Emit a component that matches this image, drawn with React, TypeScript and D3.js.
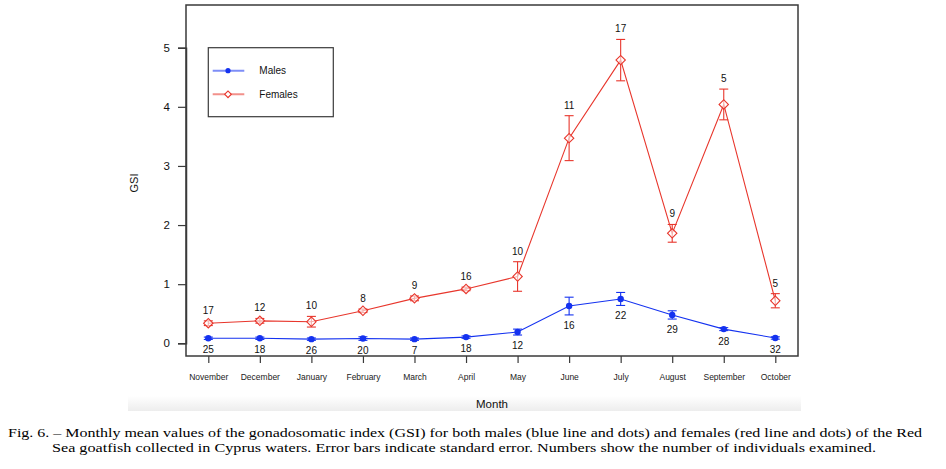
import * as d3 from 'd3';
import { useEffect, useRef } from 'react';

const months = ['November', 'December', 'January', 'February', 'March', 'April', 'May', 'June', 'July', 'August', 'September', 'October'];
const maleMean = [0.085, 0.085, 0.07, 0.08, 0.07, 0.105, 0.19, 0.63, 0.75, 0.48, 0.24, 0.09];
const maleSE = [0.02, 0.02, 0.02, 0.03, 0.02, 0.02, 0.05, 0.15, 0.11, 0.07, 0.025, 0.02];
const maleN = [25, 18, 26, 20, 7, 18, 12, 16, 22, 29, 28, 32];
const femaleMean = [0.34, 0.38, 0.365, 0.55, 0.76, 0.92, 1.13, 3.47, 4.79, 1.86, 4.04, 0.72];
const femaleSE = [0.04, 0.04, 0.09, 0.03, 0.04, 0.03, 0.25, 0.38, 0.35, 0.15, 0.26, 0.12];
const femaleN = [17, 12, 10, 8, 9, 16, 10, 11, 17, 9, 5, 5];
const yTicks = [0, 1, 2, 3, 4, 5];

const caption1 = 'Fig. 6. – Monthly mean values of the gonadosomatic index (GSI) for both males (blue line and dots) and females (red line and dots) of the Red';
const caption2 = 'Sea goatfish collected in Cyprus waters. Error bars indicate standard error. Numbers show the number of individuals examined.';

const BLUE = '#1432f0';
const RED = '#e8362c';
const FONT = "'Liberation Sans', Arial, sans-serif";
const SERIF = "'Times New Roman', 'Liberation Serif', serif";

export default function App() {
    const ref = useRef<any>();

    useEffect(() => {
        const svg = d3.select<any, any>(ref.current);
        svg.selectAll('*').remove();

        const box = { left: 186, right: 798, top: 5, bottom: 356 };
        const xScale = d3.scaleLinear().domain([0, months.length - 1]).range([208.3, 775.3]);
        const yScale = d3.scaleLinear().domain([0, 5]).range([343.3, 47.7]);

        // faint grey band under the figure
        const grad = svg.append('defs').append('linearGradient')
            .attr('id', 'band').attr('x1', 0).attr('x2', 0).attr('y1', 0).attr('y2', 1);
        grad.append('stop').attr('offset', '0%').attr('stop-color', '#ffffff');
        grad.append('stop').attr('offset', '100%').attr('stop-color', '#ededed');
        svg.append('rect').attr('x', 128).attr('y', 396).attr('width', 673).attr('height', 15).attr('fill', 'url(#band)');

        // frame
        svg.append('rect')
            .attr('x', box.left).attr('y', box.top)
            .attr('width', box.right - box.left).attr('height', box.bottom - box.top)
            .attr('fill', 'none').attr('stroke', '#3a3a3a').attr('stroke-width', 1.5);

        // y axis
        const yAxis = svg.append('g').attr('transform', `translate(${box.left},0)`)
            .call(d3.axisLeft(yScale).tickValues(yTicks).tickSize(8).tickPadding(8).tickFormat(d3.format('d')));
        yAxis.select('.domain').attr('stroke', '#3a3a3a').attr('stroke-width', 1.5);
        yAxis.selectAll('.tick line').attr('stroke', '#3a3a3a').attr('stroke-width', 1.2);
        yAxis.selectAll('.tick text').attr('font-family', FONT).attr('font-size', 11.5).attr('fill', '#111');

        // x axis
        const xAxis = svg.append('g').attr('transform', `translate(0,${box.bottom})`)
            .call(d3.axisBottom(xScale).tickValues(d3.range(months.length)).tickSize(7).tickPadding(11)
                .tickFormat((d: any) => months[d]));
        xAxis.select('.domain').remove();
        xAxis.selectAll('.tick line').attr('stroke', '#3a3a3a').attr('stroke-width', 1.2);
        xAxis.selectAll('.tick text').attr('font-family', FONT).attr('font-size', 8.5).attr('fill', '#222');

        svg.append('text').text('Month')
            .attr('x', 492).attr('y', 408).attr('text-anchor', 'middle')
            .attr('font-family', FONT).attr('font-size', 11.5).attr('fill', '#111');
        svg.append('text').text('GSI')
            .attr('transform', 'translate(138,183) rotate(-90)').attr('text-anchor', 'middle')
            .attr('font-family', FONT).attr('font-size', 11).attr('fill', '#111');

        const plot = svg.append('g');

        const drawSeries = (mean: number[], se: number[], color: string) => {
            const line = d3.line<number>()
                .x((d, i) => xScale(i))
                .y((d) => yScale(d));
            plot.append('path').datum(mean)
                .attr('d', line).attr('fill', 'none')
                .attr('stroke', color).attr('stroke-width', 1.1);
            const bars = plot.append('g').attr('stroke', color).attr('stroke-width', 1.1);
            mean.forEach((m, i) => {
                const cx = xScale(i);
                const y0 = yScale(m - se[i]);
                const y1 = yScale(m + se[i]);
                bars.append('line').attr('x1', cx).attr('x2', cx).attr('y1', y0).attr('y2', y1);
                bars.append('line').attr('x1', cx - 4.5).attr('x2', cx + 4.5).attr('y1', y0).attr('y2', y0);
                bars.append('line').attr('x1', cx - 4.5).attr('x2', cx + 4.5).attr('y1', y1).attr('y2', y1);
            });
        };

        drawSeries(femaleMean, femaleSE, RED);
        drawSeries(maleMean, maleSE, BLUE);

        const diamond = d3.symbol().type(d3.symbolSquare).size(44);
        plot.selectAll('.fpt').data(femaleMean).join('path')
            .attr('class', 'fpt')
            .attr('d', diamond)
            .attr('transform', (d, i) => `translate(${xScale(i)},${yScale(d)}) rotate(45)`)
            .attr('fill', 'white').attr('fill-opacity', 0.6)
            .attr('stroke', RED).attr('stroke-width', 1.1);

        plot.selectAll('.mpt').data(maleMean).join('circle')
            .attr('class', 'mpt')
            .attr('cx', (d, i) => xScale(i)).attr('cy', (d) => yScale(d))
            .attr('r', 3.2).attr('fill', BLUE);

        // sample sizes
        plot.selectAll('.fn').data(femaleN).join('text')
            .attr('class', 'fn').text((d) => d)
            .attr('x', (d, i) => xScale(i))
            .attr('y', (d, i) => yScale(femaleMean[i] + femaleSE[i]) - 7)
            .attr('text-anchor', 'middle')
            .attr('font-family', FONT).attr('font-size', 10).attr('fill', '#111');
        plot.selectAll('.mn').data(maleN).join('text')
            .attr('class', 'mn').text((d) => d)
            .attr('x', (d, i) => xScale(i))
            .attr('y', (d, i) => yScale(maleMean[i] - maleSE[i]) + 14)
            .attr('text-anchor', 'middle')
            .attr('font-family', FONT).attr('font-size', 10).attr('fill', '#111');

        // legend
        const legend = svg.append('g');
        legend.append('rect').attr('x', 208.3).attr('y', 47.7).attr('width', 125).attr('height', 69)
            .attr('fill', 'white').attr('stroke', '#3a3a3a').attr('stroke-width', 1.2);
        const items = [
            { label: 'Males', color: BLUE, y: 70.7 },
            { label: 'Females', color: RED, y: 94.3 },
        ];
        items.forEach((it, k) => {
            legend.append('line').attr('x1', 212.7).attr('x2', 244.3).attr('y1', it.y).attr('y2', it.y)
                .attr('stroke', it.color).attr('stroke-opacity', 0.55).attr('stroke-width', 2);
            if (k === 0) {
                legend.append('circle').attr('cx', 228).attr('cy', it.y).attr('r', 2.6).attr('fill', it.color);
            } else {
                legend.append('path').attr('d', d3.symbol().type(d3.symbolSquare).size(22))
                    .attr('transform', `translate(228,${it.y}) rotate(45)`)
                    .attr('fill', 'white').attr('stroke', it.color).attr('stroke-width', 1.1);
            }
            legend.append('text').text(it.label).attr('x', 259.3).attr('y', it.y + 3.5)
                .attr('font-family', FONT).attr('font-size', 10).attr('fill', '#111');
        });

        // caption
        const cap = svg.append('g').attr('font-family', SERIF)
            .attr('font-size', 13).attr('fill', '#000');
        cap.append('text').text(caption1).attr('x', 8).attr('y', 437)
            .attr('textLength', 914).attr('lengthAdjust', 'spacingAndGlyphs');
        cap.append('text').text(caption2).attr('x', 52).attr('y', 452)
            .attr('textLength', 824).attr('lengthAdjust', 'spacingAndGlyphs');
    });

    return (
        <>
            <style>{'body{margin:0}'}</style>
            <svg ref={ref} width={946} height={469} style={{ display: 'block', background: 'white' }}></svg>
        </>
    );
}
